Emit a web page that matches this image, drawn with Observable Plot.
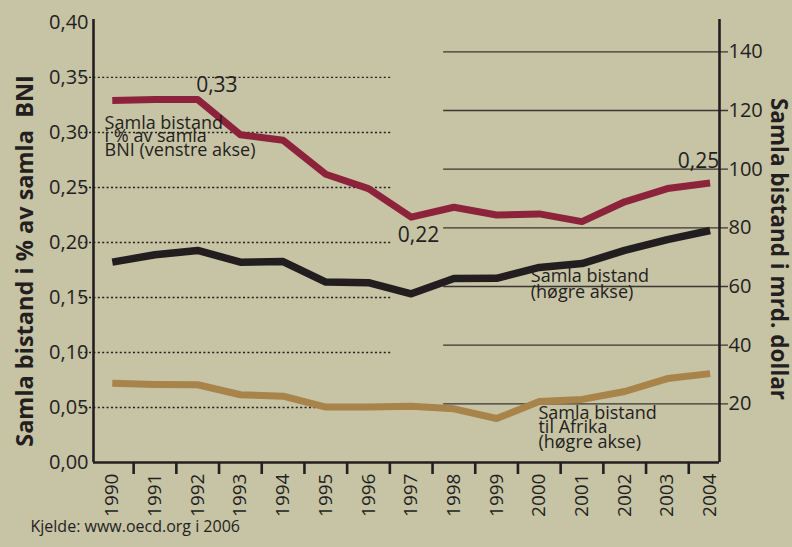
<!DOCTYPE html>
<html><head><meta charset="utf-8">
<script src="https://cdn.jsdelivr.net/npm/d3@7"></script>
<script src="https://cdn.jsdelivr.net/npm/@observablehq/plot@0.6"></script>
<style>
html,body{margin:0;padding:0;background:#c7c3a5;}
#chart svg{display:block;background:linear-gradient(to right,#e2e0d2 0 4px,#c7c3a5 4px);}
</style></head><body><div id="chart"></div>
<script>
// ---- data ----
const years = [1990,1991,1992,1993,1994,1995,1996,1997,1998,1999,2000,2001,2002,2003,2004];
const aidPctOfGNI = [0.329,0.330,0.330,0.298,0.293,0.262,0.249,0.223,0.232,0.225,0.226,0.219,0.237,0.249,0.254]; // left axis
const totalAid = [68.3,70.8,72.3,68.3,68.5,61.5,61.3,57.5,62.7,62.8,66.5,67.8,72.3,76.0,79.1]; // right axis, bn USD
const africaAid = [27.0,26.6,26.5,23.1,22.6,18.9,18.9,19.2,18.3,15.0,20.8,21.5,24.2,28.6,30.3]; // right axis, bn USD
const leftTicks = [0,0.05,0.10,0.15,0.20,0.25,0.30,0.35,0.40];
const rightTicks = [20,40,60,80,100,120,140];
const rightPerLeft = 375; // 0.40 % on left axis == 150 bn on right axis
const valueLabels = [
  {text:"0,33", year:1992.45, value:0.3427},
  {text:"0,22", year:1997.17, value:0.2064},
  {text:"0,25", year:2003.73, value:0.2736}
];
const seriesNotes = [
  {text:"Samla bistand\ni % av samla\nBNI (venstre akse)", year:1989.82, value:0.312, lh:0.75},
  {text:"Samla bistand\n(høgre akse)", year:1999.80, value:0.1745, lh:0.88},
  {text:"Samla bistand\ntil Afrika\n(høgre akse)", year:1999.98, value:0.049, lh:0.8}
];
const leftTitle = "Samla bistand i % av samla\u00a0 BNI";
const rightTitle = "Samla bistand i mrd. dollar";
const caption = "Kjelde: www.oecd.org i 2006";

// ---- tables ----
const red = years.map((y,i)=>({year:y, v:aidPctOfGNI[i]}));
const black = years.map((y,i)=>({year:y, v:totalAid[i]/rightPerLeft}));
const gold = years.map((y,i)=>({year:y, v:africaAid[i]/rightPerLeft}));
const boundaries = years.slice(0,-1).map(y=>y+0.5);
const xDomain = [1989.56, 2004.22];
const yDomain = [0, 0.4027];
const ink = "#231f20";
const fmtL = d => d.toFixed(2).replace(".", ",");

const chart = Plot.plot({
  width: 792, height: 547,
  marginLeft: 93, marginRight: 73, marginTop: 19, marginBottom: 85,
  style: {background: "transparent", fontFamily: "'Open Sans', sans-serif", color: ink},
  x: {domain: xDomain, axis: null},
  y: {domain: yDomain, axis: null},
  marks: [
    // left dotted grid
    Plot.ruleY(leftTicks.filter(d => d > 0 && d < 0.4), {x1: 1989.26, x2: 1996.56, stroke: ink, strokeWidth: 1.3, strokeDasharray: "2,2.4"}),
    // right solid grid
    Plot.ruleY(rightTicks.map(d => d / rightPerLeft), {x1: 1997.76, x2: 2004.43, stroke: "#3a3633", strokeWidth: 1.3}),
    // axis frame lines
    Plot.ruleX([xDomain[0], xDomain[1]], {y1: 0, y2: yDomain[1], stroke: ink, strokeWidth: 2.6}),
    Plot.ruleY([0], {x1: xDomain[0], x2: xDomain[1], stroke: ink, strokeWidth: 2.6}),
    // left axis
    Plot.axisY({anchor: "left", ticks: leftTicks, tickSize: 0, tickPadding: 5, tickFormat: fmtL, fontSize: 20, label: null, fill: ink}),
    // right axis
    Plot.axisY({anchor: "right", ticks: rightTicks.map(d => d / rightPerLeft), tickSize: 0, tickPadding: 9, tickFormat: d => String(Math.round(d * rightPerLeft)), fontSize: 20, label: null, fill: ink}),
    // x ticks at boundaries
    Plot.axisX({ticks: boundaries, tickSize: 12, tickFormat: () => "", label: null, strokeWidth: 2.6, stroke: ink}),
    // x labels
    Plot.axisX({ticks: years, tickSize: 0, tickPadding: 11, tickRotate: -90, tickFormat: d => String(d), fontSize: 19, label: null, fill: ink}),
    // lines
    Plot.line(gold, {x: "year", y: "v", stroke: "#a8834a", strokeWidth: 7, strokeLinecap: "butt"}),
    Plot.line(black, {x: "year", y: "v", stroke: "#221e1f", strokeWidth: 7.5, strokeLinecap: "butt"}),
    Plot.line(red, {x: "year", y: "v", stroke: "#8c233b", strokeWidth: 7, strokeLinecap: "butt"}),
    // value labels
    Plot.text(valueLabels, {x: "year", y: "value", text: "text", fontSize: 21, fill: ink}),
    // series notes
    ...seriesNotes.map(n => Plot.text([n], {x: "year", y: "value", text: "text", textAnchor: "start", lineAnchor: "top", lineHeight: n.lh, fontSize: 18, fill: ink})),
    // axis titles
    Plot.text([leftTitle], {frameAnchor: "left", textAnchor: "middle", lineAnchor: "middle", dx: -68, dy: 20, rotate: -90, fontSize: 23.5, fontWeight: "bold", fill: ink}),
    Plot.text([rightTitle], {frameAnchor: "right", textAnchor: "middle", lineAnchor: "middle", dx: 59, dy: 8, rotate: 90, fontSize: 22.5, fontWeight: "bold", fill: ink}),
    // caption
    Plot.text([caption], {frameAnchor: "bottom-left", dx: -63, dy: 69, textAnchor: "start", fontSize: 16, fill: ink})
  ]
});
document.getElementById("chart").appendChild(chart);
</script></body></html>
